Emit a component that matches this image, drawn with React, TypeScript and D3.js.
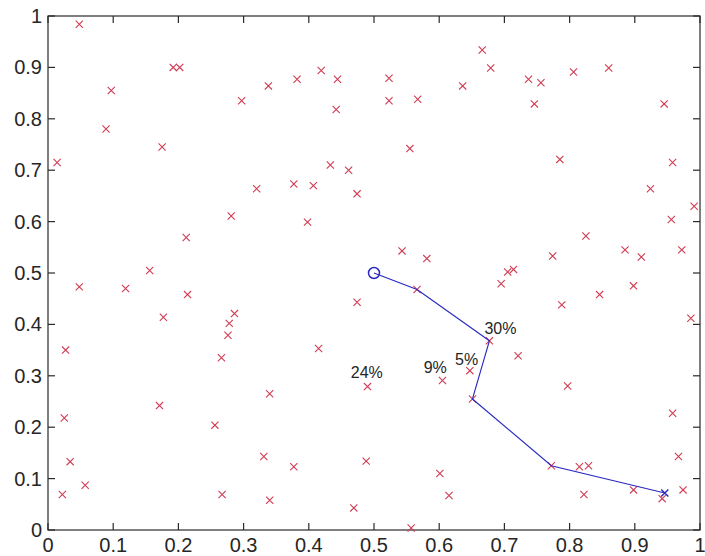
import React from "react";
import * as d3 from "d3";

const pointsX = [0.048,0.014,0.097,0.089,0.192,0.202,0.175,0.297,0.338,0.382,0.419,0.444,0.442,0.523,0.523,0.567,0.636,0.555,0.433,0.461,0.320,0.377,0.407,0.666,0.679,0.737,0.756,0.746,0.806,0.860,0.945,0.785,0.958,0.924,0.281,0.212,0.156,0.048,0.119,0.214,0.177,0.286,0.278,0.276,0.027,0.266,0.474,0.398,0.543,0.581,0.566,0.474,0.415,0.991,0.956,0.825,0.774,0.885,0.910,0.972,0.705,0.714,0.695,0.898,0.846,0.788,0.986,0.677,0.721,0.490,0.605,0.340,0.331,0.377,0.488,0.601,0.615,0.340,0.469,0.557,0.647,0.171,0.025,0.256,0.034,0.057,0.022,0.267,0.651,0.797,0.958,0.967,0.772,0.815,0.829,0.822,0.898,0.942,0.974];
const pointsY = [0.984,0.715,0.855,0.780,0.900,0.900,0.745,0.835,0.864,0.877,0.894,0.877,0.818,0.879,0.835,0.838,0.864,0.742,0.710,0.700,0.664,0.673,0.670,0.934,0.899,0.877,0.870,0.829,0.891,0.899,0.829,0.721,0.715,0.664,0.611,0.569,0.505,0.473,0.470,0.458,0.414,0.421,0.402,0.379,0.350,0.335,0.654,0.599,0.543,0.528,0.468,0.443,0.353,0.630,0.604,0.572,0.533,0.545,0.531,0.545,0.502,0.507,0.479,0.475,0.458,0.438,0.412,0.368,0.339,0.279,0.291,0.265,0.143,0.123,0.134,0.110,0.067,0.058,0.043,0.004,0.310,0.242,0.218,0.204,0.133,0.087,0.069,0.069,0.255,0.280,0.227,0.143,0.125,0.123,0.125,0.069,0.078,0.061,0.078];

const pathX = [0.5, 0.566, 0.677, 0.651, 0.772, 0.946];
const pathY = [0.5, 0.468, 0.368, 0.255, 0.125, 0.072];

const labelText = ["30%", "5%", "9%", "24%"];
const labelX = [0.694, 0.642, 0.594, 0.489];
const labelY = [0.381, 0.321, 0.305, 0.295];

const xTicks = [0, 0.1, 0.2, 0.3, 0.4, 0.5, 0.6, 0.7, 0.8, 0.9, 1];
const yTicks = [0, 0.1, 0.2, 0.3, 0.4, 0.5, 0.6, 0.7, 0.8, 0.9, 1];

const W = 705, H = 556;
const left = 48, right = 700, top = 16, bottom = 530;

export default function App() {
  const x = d3.scaleLinear().domain([0, 1]).range([left, right]);
  const y = d3.scaleLinear().domain([0, 1]).range([bottom, top]);
  const line = d3.line<number>().x((_, i) => x(pathX[i])).y((_, i) => y(pathY[i]));
  const red = "#d03c52";
  const blue = "#2a2ac0";
  const axisColor = "#2a2a2a";
  const tickLen = 7;
  const s = 3.6;
  const fmt = (v: number) => (v === 0 ? "0" : v === 1 ? "1" : d3.format(".1f")(v));
  return (
    <>
      <style>{`body{margin:0}`}</style>
      <svg width={W} height={H} style={{ display: "block", background: "#fff" }}>
        <rect x={left} y={top} width={right - left} height={bottom - top} fill="none" stroke={axisColor} strokeWidth={1.2} />
        {xTicks.map((t, i) => (
          <g key={"xt" + i}>
            <line x1={x(t)} x2={x(t)} y1={bottom} y2={bottom - tickLen} stroke={axisColor} strokeWidth={1.2} />
            <line x1={x(t)} x2={x(t)} y1={top} y2={top + tickLen} stroke={axisColor} strokeWidth={1.2} />
            <text x={x(t)} y={552} textAnchor="middle" fontFamily="Liberation Sans, Arial, sans-serif" fontSize={20} fill="#262626">{fmt(t)}</text>
          </g>
        ))}
        {yTicks.map((t, i) => (
          <g key={"yt" + i}>
            <line x1={left} x2={left + tickLen} y1={y(t)} y2={y(t)} stroke={axisColor} strokeWidth={1.2} />
            <line x1={right} x2={right - tickLen} y1={y(t)} y2={y(t)} stroke={axisColor} strokeWidth={1.2} />
            <text x={42} y={y(t) + 7} textAnchor="end" fontFamily="Liberation Sans, Arial, sans-serif" fontSize={20} fill="#262626">{fmt(t)}</text>
          </g>
        ))}
        {pointsX.map((px, i) => {
          const cx = x(px), cy = y(pointsY[i]);
          return (
            <path key={"p" + i} d={`M${cx - s},${cy - s}L${cx + s},${cy + s}M${cx - s},${cy + s}L${cx + s},${cy - s}`} stroke={red} strokeWidth={1.1} fill="none" />
          );
        })}
        <path d={line(pathX) || ""} fill="none" stroke={blue} strokeWidth={1.2} />
        <circle cx={x(pathX[0])} cy={y(pathY[0])} r={5.5} fill="none" stroke={blue} strokeWidth={1.5} />
        {(() => {
          const n = pathX.length - 1;
          const cx = x(pathX[n]), cy = y(pathY[n]);
          return <path d={`M${cx - s},${cy - s}L${cx + s},${cy + s}M${cx - s},${cy + s}L${cx + s},${cy - s}`} stroke={blue} strokeWidth={1.4} fill="none" />;
        })()}
        {labelText.map((t, i) => (
          <text key={"l" + i} x={x(labelX[i])} y={y(labelY[i])} textAnchor="middle" fontFamily="Liberation Sans, Arial, sans-serif" fontSize={16} fill="#262626">{t}</text>
        ))}
      </svg>
    </>
  );
}
